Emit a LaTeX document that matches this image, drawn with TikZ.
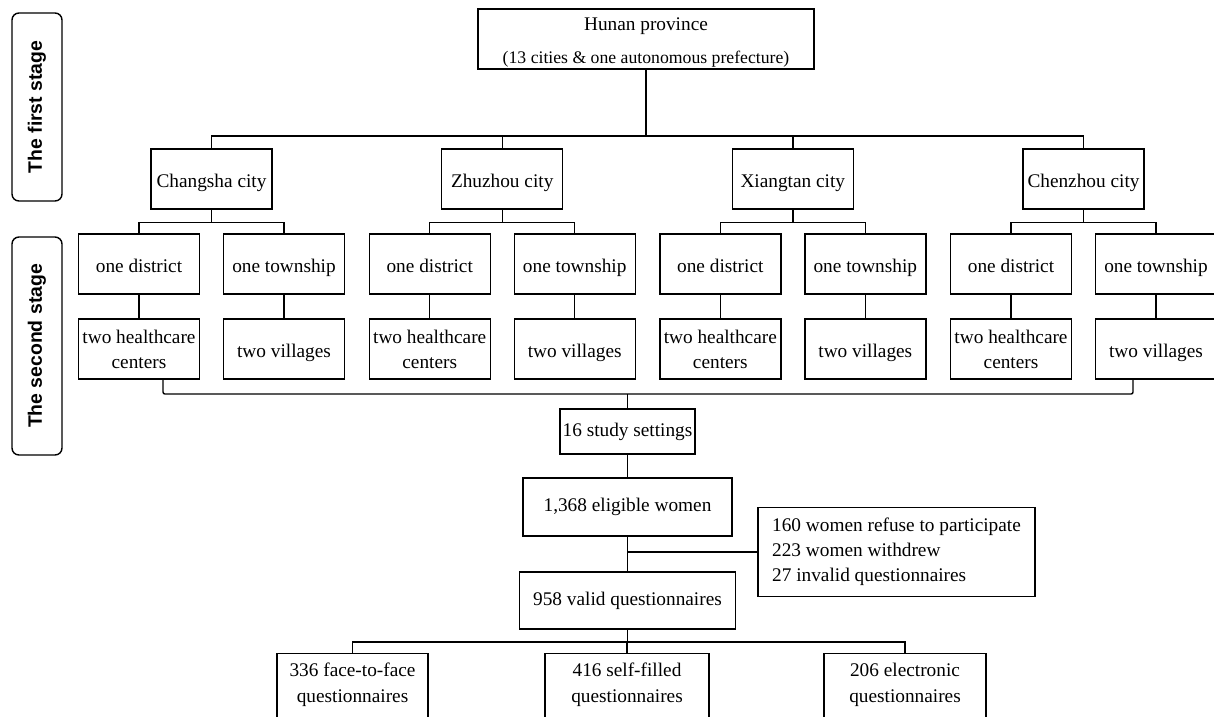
\documentclass[tikz,border=0pt]{standalone}
\usepackage{fontspec}
\setmainfont{Liberation Serif}
\newfontfamily\stagefont{Liberation Sans}
\begin{document}
\begin{tikzpicture}[x=1pt,y=-1pt,line width=1.4pt,
        box/.style={draw,font=\fontsize{19.3}{25}\selectfont,align=center,inner sep=2pt},
        unitbox/.style={box,minimum width=121pt,minimum height=60pt},
        onebox/.style={unitbox,text height=17pt,text depth=0pt},
        outbox/.style={box,anchor=north,inner ysep=9pt,text depth=20pt,
            font=\fontsize{19.3}{26}\selectfont},
        stagebox/.style={draw,rounded corners=7pt,rotate=90,minimum height=50pt,
            font=\stagefont\bfseries\fontsize{19.4}{23}\selectfont}]
    \useasboundingbox (0,0) rectangle (1214,716);

    \node[stagebox,minimum width=188pt] (first) at (37,107) {The first stage};
    \node[stagebox,minimum width=218pt] (second) at (37,346) {The second stage};

    \node[box,inner ysep=0pt,minimum width=336pt,minimum height=60pt] (hunan) at (646,39)
        {\rule{0pt}{20pt}Hunan province\\[8pt]{\fontsize{17.7}{25}\selectfont (13 cities \& one autonomous prefecture)}};
    \coordinate (bar) at (646,136);

    \foreach \c/\x/\name in {cs/211.5/Changsha,zz/502.2/Zhuzhou,xt/792.8/Xiangtan,cz/1083.5/Chenzhou}{
        \node[onebox] (\c) at (\x,179) {\name\ city};
        \node[onebox] (\c-dist) at (\x-72.5,264) {one district};
        \node[onebox] (\c-town) at (\x+72.5,264) {one township};
        \node[unitbox] (\c-hc) at (\x-72.5,349) {two healthcare\\centers};
        \node[onebox] (\c-vil) at (\x+72.5,349) {two villages};
        \draw (\c.south) -- ++(0,13) -| (\c-dist.north);
        \draw (\c.south) ++(0,13) -| (\c-town.north);
        \draw (\c-dist.south) -- (\c-hc.north);
        \draw (\c-town.south) -- (\c-vil.north);
    }
    \draw (hunan.south) -- (bar);
    \draw (cs.north) |- (bar) -| (cz.north);
    \draw (zz.north) -- (zz.north |- bar);
    \draw (xt.north) -- (xt.north |- bar);

    \coordinate (bus) at (627.5,394);
    \draw[rounded corners=2pt] ([xshift=24pt]cs-hc.south) |- (bus) -| ([xshift=-23pt]cz-vil.south);

    \node[box,minimum width=135pt,minimum height=45pt] (settings) at (627.5,431.5) {16 study settings};
    \node[box,minimum width=209pt,minimum height=58pt] (eligible) at (627.5,507) {1,368 eligible women};
    \node[box,minimum width=216pt,minimum height=57pt] (valid) at (627.5,600.5) {958 valid questionnaires};
    \node[box,align=left,minimum width=277pt,minimum height=89pt] (note) at (896.5,552)
        {160 women refuse to participate\\223 women withdrew\\27 invalid questionnaires};

    \draw (bus) -- (settings.north);
    \draw (settings.south) -- (eligible.north);
    \draw (eligible.south) -- (valid.north);
    \draw (note.west) -- (note.west -| eligible.south);

    \node[outbox,minimum width=151pt] (face) at (352.5,653) {336 face-to-face\\questionnaires};
    \node[outbox,minimum width=164pt] (self) at (627,653) {416 self-filled\\questionnaires};
    \node[outbox,minimum width=162pt] (elec) at (905,653) {206 electronic\\questionnaires};
    \coordinate (split) at (627.5,642);
    \draw (valid.south) -- (split);
    \draw (face.north) |- (split) -| (elec.north);
    \draw (self.north) -- (self.north |- split);
\end{tikzpicture}
\end{document}
